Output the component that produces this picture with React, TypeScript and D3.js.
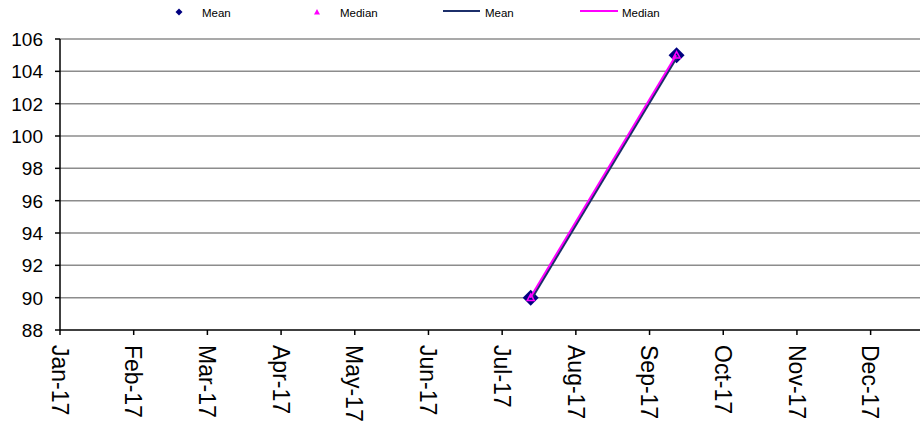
import React from "react";
import * as d3 from "d3";

const monthLabels = ["Jan-17","Feb-17","Mar-17","Apr-17","May-17","Jun-17","Jul-17","Aug-17","Sep-17","Oct-17","Nov-17","Dec-17"];
const pointDates = ["2017-07-13", "2017-09-12"];
const meanValues = [90, 105];
const medianValues = [90, 105];
const yTicks = [88, 90, 92, 94, 96, 98, 100, 102, 104, 106];

const W = 920, H = 425;
const FONT = "'Liberation Sans', Arial, sans-serif";
const NARROW = "'Liberation Sans Narrow', 'Liberation Sans', Arial, sans-serif";

function monthIndex(s: string): number {
  const d = new Date(s + "T00:00:00");
  const y = d.getFullYear(), m = d.getMonth();
  const days = new Date(y, m + 1, 0).getDate();
  return (y - 2017) * 12 + m + (d.getDate() - 1) / days;
}

export default function App() {
  const x = d3.scaleLinear().domain([0, 11.67]).range([60, 920]);
  const y = d3.scaleLinear().domain([88, 106]).range([330, 39]);
  const meanPts = pointDates.map((d, i) => [x(monthIndex(d)), y(meanValues[i])] as [number, number]);
  const medPts = pointDates.map((d, i) => [x(monthIndex(d)), y(medianValues[i])] as [number, number]);
  const line = d3.line();
  const diamond = (cx: number, cy: number, r: number) => `M${cx},${cy - r}L${cx + r},${cy}L${cx},${cy + r}L${cx - r},${cy}Z`;
  const tri = (cx: number, cy: number, r: number) => `M${cx},${cy - r}L${cx + r},${cy + r * 0.8}L${cx - r},${cy + r * 0.8}Z`;

  return (
    <svg width={W} height={H} style={{ position: "absolute", left: 0, top: 0, background: "#fff" }} fontFamily={FONT}>
      {/* gridlines */}
      {yTicks.filter(t => t !== 88).map(t => (
        <line key={t} x1={60} x2={920} y1={y(t)} y2={y(t)} stroke="#8c8c8c" strokeWidth={1.5} />
      ))}
      {/* y axis */}
      <line x1={60} x2={60} y1={y(106)} y2={y(88)} stroke="#000" strokeWidth={1.5} />
      {yTicks.map(t => (
        <g key={t}>
          <line x1={55} x2={60} y1={y(t)} y2={y(t)} stroke="#000" strokeWidth={1.5} />
          <text x={43} y={y(t)} dy="0.36em" textAnchor="end" fontSize={19} fill="#000">{t}</text>
        </g>
      ))}
      {/* x axis */}
      <line x1={60} x2={920} y1={y(88)} y2={y(88)} stroke="#000" strokeWidth={1.5} />
      {monthLabels.map((m, i) => (
        <g key={m}>
          <line x1={x(i)} x2={x(i)} y1={y(88)} y2={y(88) + 5} stroke="#000" strokeWidth={1.5} />
          <text transform={`translate(${x(i)},${y(88) + 15}) rotate(90)`} dy="0.36em" textAnchor="start" fontSize={23} fill="#000">{m}</text>
        </g>
      ))}
      {/* series */}
      {meanPts.map((p, i) => (
        <path key={"d" + i} d={diamond(p[0], p[1], 8)} fill="#000080" />
      ))}
      <path d={line(meanPts.map(p => [p[0] + 0.8, p[1] + 0.5] as [number, number])) || ""} fill="none" stroke="#1c2f6a" strokeWidth={3} />
      <path d={line(medPts.map(p => [p[0] - 0.5, p[1]] as [number, number])) || ""} fill="none" stroke="#ff00ff" strokeWidth={2} />
      {medPts.map((p, i) => (
        <path key={"t" + i} d={tri(p[0], p[1], 3.5)} fill="none" stroke="#ff00ff" strokeWidth={1.5} />
      ))}
      {/* legend */}
      <path d={diamond(179, 12, 3.5)} fill="#000080" />
      <text x={202} y={13} dy="0.36em" fontSize={11.5} fontFamily={NARROW} fill="#000">Mean</text>
      <path d={tri(317, 12, 3)} fill="#ff00ff" />
      <text x={340} y={13} dy="0.36em" fontSize={11.5} fontFamily={NARROW} fill="#000">Median</text>
      <line x1={443} x2={480} y1={11} y2={11} stroke="#1c2f6a" strokeWidth={2} />
      <text x={485} y={13} dy="0.36em" fontSize={11.5} fontFamily={NARROW} fill="#000">Mean</text>
      <line x1={580} x2={618} y1={11} y2={11} stroke="#ff00ff" strokeWidth={2} />
      <text x={622} y={13} dy="0.36em" fontSize={11.5} fontFamily={NARROW} fill="#000">Median</text>
    </svg>
  );
}
